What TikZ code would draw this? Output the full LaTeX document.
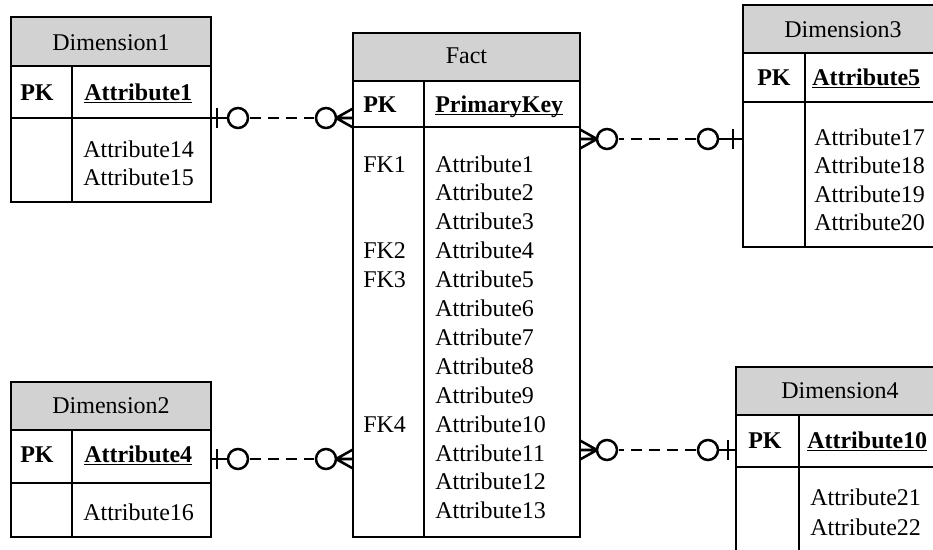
\documentclass[tikz,border=0pt]{standalone}
\usepackage{fontspec}
\setmainfont{Liberation Serif}
\usepackage{tikz}
\usetikzlibrary{calc}

\definecolor{hdrgray}{RGB}{210,210,210}
\newcommand{\keyul}[1]{\setbox0=\hbox{#1}\rlap{\rule[-2.6pt]{\wd0}{1.1pt}}\box0}

\begin{document}
\begin{tikzpicture}[x=0.75pt, y=-0.75pt,
    tbl/.style={draw=black, line width=1pt},
    hdr/.style={tbl, fill=hdrgray},
    txt/.style={font=\fontsize{18}{21.7}\selectfont, inner sep=0pt, anchor=base west},
    title/.style={txt, anchor=base},
    key/.style={txt, font=\fontsize{18}{21.7}\selectfont\bfseries},
    rel/.style={line width=1.9pt}]
    \clip (0,0) rectangle (933,550);
    % Dimension1
    \draw[hdr] (11,17) rectangle (211,66);
    \draw[tbl] (11,66) rectangle (211,202);
    \draw[tbl] (11,118) -- (211,118);
    \draw[tbl] (72,66) -- (72,202);
    \node[title] (d1t) at (111,50) {Dimension1};
    \node[key] (d1pk) at (20,100) {PK};
    \node[key] (d1k) at (84,100) {\keyul{Attribute1}};
    \node[txt] (d1a14) at (83,157) {Attribute14};
    \node[txt] (d1a15) at (83,185) {Attribute15};
    % Dimension2
    \draw[hdr] (11,382) rectangle (211,430);
    \draw[tbl] (11,430) rectangle (211,537);
    \draw[tbl] (11,483) -- (211,483);
    \draw[tbl] (72,430) -- (72,537);
    \node[title] (d2t) at (111,413) {Dimension2};
    \node[key] (d2pk) at (20,462) {PK};
    \node[key] (d2k) at (84,462) {\keyul{Attribute4}};
    \node[txt] (d2a16) at (83,520) {Attribute16};
    % Fact
    \draw[hdr] (353,33) rectangle (580,81);
    \draw[tbl] (353,81) rectangle (580,537);
    \draw[tbl] (353,127) -- (580,127);
    \draw[tbl] (424,81) -- (424,537);
    \node[title] (ft) at (466.5,63) {Fact};
    \node[key] (fpk) at (363,112) {PK};
    \node[key] (fk) at (435,112) {\keyul{PrimaryKey}};
    \foreach \i in {1,...,13}
        \node[txt] (fa\i) at (435,{172+28.9*(\i-1)}) {Attribute\i};
    \foreach \k/\i in {1/1, 2/4, 3/5, 4/10}
        \node[txt] (ffk\k) at (363,{172+28.9*(\i-1)}) {FK\k};
    % Dimension3
    \draw[hdr] (743,5) rectangle (943,53);
    \draw[tbl] (743,53) rectangle (943,247);
    \draw[tbl] (743,102) -- (943,102);
    \draw[tbl] (805,53) -- (805,247);
    \node[title] (d3t) at (843,37) {Dimension3};
    \node[key] (d3pk) at (757,85) {PK};
    \node[key] (d3k) at (812,85) {\keyul{Attribute5}};
    \foreach \i in {17,...,20}
        \node[txt] (d3a\i) at (814,{145+28.5*(\i-17)}) {Attribute\i};
    % Dimension4
    \draw[hdr] (736,367) rectangle (945,415);
    \draw[tbl] (736,415) rectangle (945,560);
    \draw[tbl] (736,467) -- (945,467);
    \draw[tbl] (799,415) -- (799,560);
    \node[title] (d4t) at (840,398) {Dimension4};
    \node[key] (d4pk) at (748,448) {PK};
    \node[key] (d4k) at (807,448) {\keyul{Attribute10}};
    \node[txt] (d4a21) at (810,505) {Attribute21};
    \node[txt] (d4a22) at (810,535) {Attribute22};
    % relationship ends
    \coordinate (d1e) at (211,118); \coordinate (f1e) at (353,118);
    \coordinate (d2e) at (211,459); \coordinate (f2e) at (353,459);
    \coordinate (d3e) at (743,139); \coordinate (f3e) at (580,139);
    \coordinate (d4e) at (736,450); \coordinate (f4e) at (580,450);
    % zero-or-one to zero-or-many
    \foreach \d/\f/\s/\b/\o in {d1e/f1e/1/6/27, d2e/f2e/1/6/27, d3e/f3e/-1/10/35, d4e/f4e/-1/8/28} {
        \draw[rel] (\d) -- ($(\d)+\s*(\o-10,0)$);
        \draw[rel] ($(\d)+\s*(\b,-10)$) -- ($(\d)+\s*(\b,10)$);
        \draw[rel] ($(\d)+\s*(\o,0)$) circle[radius=7.5pt];
        \draw[rel, dash pattern=on 8.5pt off 5pt] ($(\d)+\s*(\o+12,0)$) -- ($(\f)-\s*(39,0)$);
        \draw[rel] ($(\f)-\s*(27,0)$) circle[radius=7.5pt];
        \draw[rel] ($(\f)-\s*(17,0)$) -- (\f)
            ($(\f)-\s*(17,0)$) -- ($(\f)+(0,-9.5)$)
            ($(\f)-\s*(17,0)$) -- ($(\f)+(0,9.5)$);
    }
\end{tikzpicture}
\end{document}
